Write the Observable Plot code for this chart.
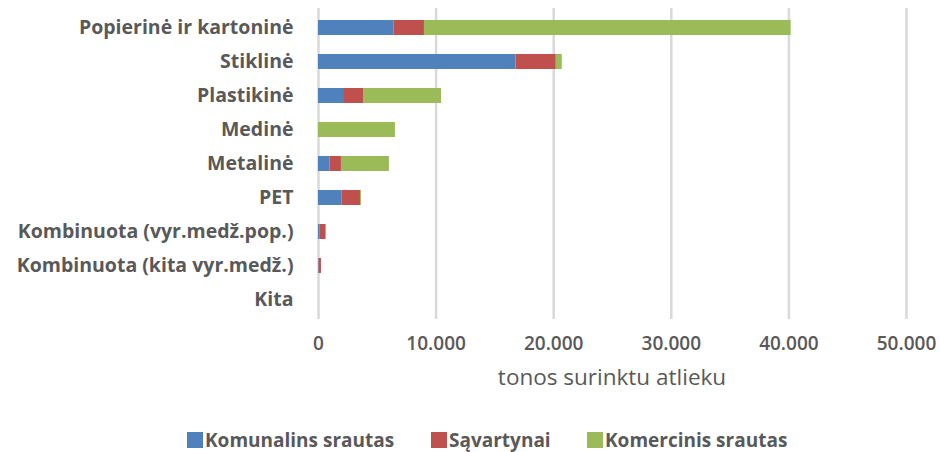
<!DOCTYPE html>
<html>
<head>
<meta charset="utf-8">
<script src="https://cdn.jsdelivr.net/npm/d3@7"></script>
<script src="https://cdn.jsdelivr.net/npm/@observablehq/plot@0.6"></script>
<style>
  body { margin: 0; background: #fff; font-family: "Open Sans", sans-serif; }
  #wrap { width: 940px; position: relative; }
  #xtitle { width: 588px; margin-left: 318px; text-align: center; color: #595959; font-size: 22.5px; height: 34px; line-height: 34px; }
  #legend { position: relative; height: 58px; color: #595959; font-weight: bold; font-size: 19px; }
  .li { position: absolute; top: 33px; display: flex; align-items: center; height: 26px; }
  .sw { width: 16px; height: 16px; margin-right: 2px; }
</style>
</head>
<body>
<div id="wrap">
<div id="chart"></div>
<div id="xtitle">tonos surinktu atlieku</div>
<div id="legend"></div>
</div>
<script>
const categories = ["Popierinė ir kartoninė", "Stiklinė", "Plastikinė", "Medinė", "Metalinė", "PET", "Kombinuota (vyr.medž.pop.)", "Kombinuota (kita vyr.medž.)", "Kita"];
const seriesNames = ["Komunalins srautas", "Sąvartynai", "Komercinis srautas"];
const seriesColors = ["#4F81BD", "#C0504D", "#9BBB59"];
const komunalinis = [6430, 16800, 2130, 0, 990, 2010, 140, 50, 0];
const savartynai = [2580, 3420, 1700, 0, 960, 1560, 460, 200, 0];
const komercinis = [31180, 510, 6630, 6540, 4080, 80, 80, 0, 0];
const xTicks = [0, 10000, 20000, 30000, 40000, 50000];

const seriesValues = [komunalinis, savartynai, komercinis];
const data = [];
categories.forEach((c, i) => {
  seriesNames.forEach((s, j) => data.push({category: c, series: s, value: seriesValues[j][i]}));
});

const fmt = d3.formatLocale({decimal: ",", thousands: ".", grouping: [3], currency: ["", ""]}).format(",d");

const chart = Plot.plot({
  width: 940,
  height: 360,
  marginLeft: 318,
  marginRight: 34,
  marginTop: 8,
  marginBottom: 41,
  style: {fontFamily: "'Open Sans', sans-serif", color: "#595959", background: "#fff"},
  x: {domain: [0, 50000], ticks: xTicks, tickFormat: fmt, label: null},
  y: {domain: categories, paddingInner: 0.56, paddingOuter: 0.28, label: null},
  color: {domain: seriesNames, range: seriesColors},
  marks: [
    Plot.gridX(xTicks, {stroke: "#d9d9d9", strokeOpacity: 1, strokeWidth: 2.5}),
    Plot.barX(data, Plot.stackX({y: "category", x: "value", fill: "series", order: seriesNames})),
    Plot.axisX({ticks: xTicks, tickFormat: fmt, tickSize: 0, tickPadding: 17, fontSize: 19, fontWeight: 600, label: null}),
    Plot.axisY({tickSize: 0, tickPadding: 25, fontSize: 19.5, fontWeight: "bold", label: null})
  ]
});
document.getElementById("chart").appendChild(chart);

const legend = document.getElementById("legend");
const legendX = [187, 431, 587];
seriesNames.forEach((s, i) => {
  const li = document.createElement("div");
  li.className = "li";
  li.style.left = legendX[i] + "px";
  li.innerHTML = `<span class="sw" style="background:${seriesColors[i]}"></span><span>${s}</span>`;
  legend.appendChild(li);
});
</script>
</body>
</html>
